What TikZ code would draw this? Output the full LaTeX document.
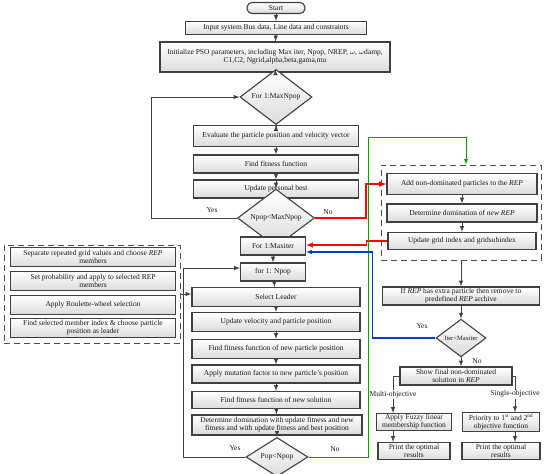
\documentclass[tikz,border=0pt]{standalone}
\usepackage{fontspec}
\setmainfont{Liberation Serif}
\usetikzlibrary{shapes.geometric}
\tikzstyle{boite}=[rectangle,draw=black!75,line width=1.1pt,
top color=white,bottom color=black!14,text=black!90,
font=\fontsize{7.5}{8.2}\selectfont,align=center,inner sep=1pt]
\tikzstyle{losange}=[diamond,draw=black!75,line width=1.1pt,
top color=white,bottom color=black!14,text=black!90,
font=\fontsize{7.5}{8.2}\selectfont,inner sep=0pt]
\tikzstyle{cadre}=[rectangle,draw=black!70,line width=1pt,dash pattern=on 6pt off 4pt]
\tikzstyle{fleche}=[-latex,draw=black!75,line width=1pt]
\tikzstyle{etiquette}=[font=\fontsize{7.5}{8.2}\selectfont,text=black!90]
\begin{document}
\begin{tikzpicture}[x=1pt,y=-1pt]
      \useasboundingbox (0,0) rectangle (550,474);
      % colonne principale
      \node[boite,rounded corners=5pt,minimum width=58,minimum height=11] (start) at (276,8) {Start};
      \node[boite,minimum width=181,minimum height=13] (input) at (276,28) {Input system Bus data, Line data and constraints};
      \node[boite,minimum width=230,minimum height=30] (init) at (275,57) {Initialize PSO parameters, including Max iter, Npop, NREP, $\omega$, $\omega$damp,\\ C1,C2, Ngrid,alpha,beta,gama,mu};
      \node[losange,minimum width=72,minimum height=38] (maxnpop) at (276,97) {For 1:MaxNpop};
      \node[boite,minimum width=165,minimum height=21] (eval) at (276,136) {Evaluate the particle position and velocity vector};
      \node[boite,minimum width=165,minimum height=18] (fitness) at (276,164) {Find fitness function};
      \node[boite,minimum width=165,minimum height=18] (pbest) at (276,189) {Update personal best};
      \node[losange,minimum width=77,minimum height=24] (testnpop) at (276,218) {Npop<MaxNpop};
      \node[boite,minimum width=65,minimum height=18] (maxiter) at (273,246) {For 1:Maxiter};
      \node[boite,minimum width=65,minimum height=18] (npop) at (273,272) {for 1: Npop};
      \node[boite,minimum width=168,minimum height=19] (leader) at (276,297) {Select Leader};
      \node[boite,minimum width=168,minimum height=19] (vitesse) at (276,322) {Update velocity and particle position};
      \node[boite,minimum width=168,minimum height=19] (fitnew) at (276,349) {Find fitness function of new particle position};
      \node[boite,minimum width=168,minimum height=18] (mutation) at (276,374) {Apply mutation factor to new particle's position};
      \node[boite,minimum width=168,minimum height=17] (fitsol) at (276,400) {Find fitness function of new solution};
      \node[boite,minimum width=170,minimum height=20] (domin) at (277,425) {Determine domination with update fitness and new\\ fitness and with update fitness and best position};
      \node[losange,minimum width=62,minimum height=30] (testpop) at (277,457) {Pop<Npop};
      % bloc gauche
      \node[cadre,minimum width=176,minimum height=98] (gauche) at (92,294) {};
      \node[boite,minimum width=165,minimum height=19] (separe) at (93,257) {Separate repeated grid values and choose \textit{REP}\\ members};
      \node[boite,minimum width=165,minimum height=19] (proba) at (93,281) {Set probability and apply to selected REP\\ members};
      \node[boite,minimum width=165,minimum height=19] (roulette) at (93,305) {Apply Roulette-wheel selection};
      \node[boite,minimum width=165,minimum height=19] (index) at (93,328) {Find selected member index \& choose particle\\ position as leader};
      % bloc droit
      \node[cadre,minimum width=160,minimum height=95] (droite) at (461,212.5) {};
      \node[boite,minimum width=150,minimum height=21] (ajout) at (462,184) {Add non-dominated particles to the \textit{REP}};
      \node[boite,minimum width=150,minimum height=18] (newrep) at (462,213) {Determine domination of \textit{new REP}};
      \node[boite,minimum width=148,minimum height=17] (grille) at (462,241) {Update grid index and gridsubindex};
      \node[boite,minimum width=157,minimum height=18] (extra) at (461,296) {If \textit{REP} has extra particle then remove to\\ predefined \textit{REP} archive};
      \node[losange,minimum width=50,minimum height=34,font=\fontsize{6.5}{7}\selectfont] (testiter) at (461,338) {Iter<Maxiter};
      \node[boite,minimum width=112,minimum height=18] (final) at (456,376) {Show final non-dominated\\ solution in \textit{REP}};
      \node[boite,minimum width=75,minimum height=17] (fuzzy) at (414,422) {Apply Fuzzy linear\\ membership function};
      \node[boite,minimum width=77,minimum height=17] (priorite) at (501,422) {Priority to 1\textsuperscript{st} and 2\textsuperscript{nd}\\ objective function};
      \node[boite,minimum width=72,minimum height=17] (print1) at (414,451) {Print the optimal\\ results};
      \node[boite,minimum width=78,minimum height=17] (print2) at (501,451) {Print the optimal\\ results};
      % fleches
      \draw[fleche] (start) -- (input);
      \draw[fleche] (input) -- (init);
      \draw[fleche] (init) -- (maxnpop);
      \draw[fleche] (maxnpop) -- (eval);
      \draw[fleche] (eval) -- (fitness);
      \draw[fleche] (fitness) -- (pbest);
      \draw[fleche] (pbest) -- (testnpop);
      \draw[fleche] (testnpop.west) -- ++(-85,0) |- (maxnpop.west);
      \node[etiquette] (oui1) at (212,210) {Yes};
      \draw[-latex,red,line width=1.5pt] (testnpop.east) -- ++(51,0) |- (ajout.west);
      \node[etiquette] (non1) at (328,212) {No};
      \draw[fleche] (ajout) -- (newrep);
      \draw[fleche] (newrep) -- (grille);
      \draw[-latex,red,line width=1.3pt] (grille.west) -- ++(-21,0) |- ([yshift=1pt]maxiter.east);
      \draw[fleche] (maxiter) -- (npop);
      \draw[fleche] (npop) -- (leader);
      \draw[fleche] (leader) -- (vitesse);
      \draw[fleche] (vitesse) -- (fitnew);
      \draw[fleche] (fitnew) -- (mutation);
      \draw[fleche] (mutation) -- (fitsol);
      \draw[fleche] (fitsol) -- (domin);
      \draw[fleche] (domin) -- (testpop);
      \draw[fleche] (testpop.west) -- ++(-62,0) |- ([yshift=4pt]npop.west);
      \node[etiquette] (oui2) at (235,448) {Yes};
      \draw[-latex,green!65!black,line width=0.9pt] (testpop.east) -- ++(60,0) -- ++(0,-320) -| ([xshift=5pt]droite.north);
      \node[etiquette] (non2) at (335,449) {No};
      \draw[fleche] (gauche.east) -- (gauche.east -| leader.west);
      \draw[fleche] (droite.south) -- (extra.north);
      \draw[fleche] (extra) -- (testiter);
      \draw[-latex,blue!70!cyan!80!black,line width=1.1pt] (testiter.west) -- ++(-63,0) |- ([yshift=-6pt]maxiter.east);
      \node[etiquette] (oui3) at (422,326) {Yes};
      \draw[fleche] (testiter.south) -- (testiter.south |- final.north);
      \node[etiquette] (non3) at (477,361) {No};
      \draw[fleche] (final.west) -| node[etiquette,fill=white,inner sep=1pt,pos=0.75] {Multi-objective} ([xshift=-21pt]fuzzy.north);
      \draw[fleche] (final.east) -| node[etiquette,fill=white,inner sep=1pt,pos=0.75] {Single-objective} ([xshift=14pt]priorite.north);
      \draw[fleche] ([xshift=-21pt]fuzzy.south) -- ([xshift=-21pt]print1.north);
      \draw[fleche] ([xshift=14pt]priorite.south) -- ([xshift=14pt]print2.north);
\end{tikzpicture}
\end{document}
